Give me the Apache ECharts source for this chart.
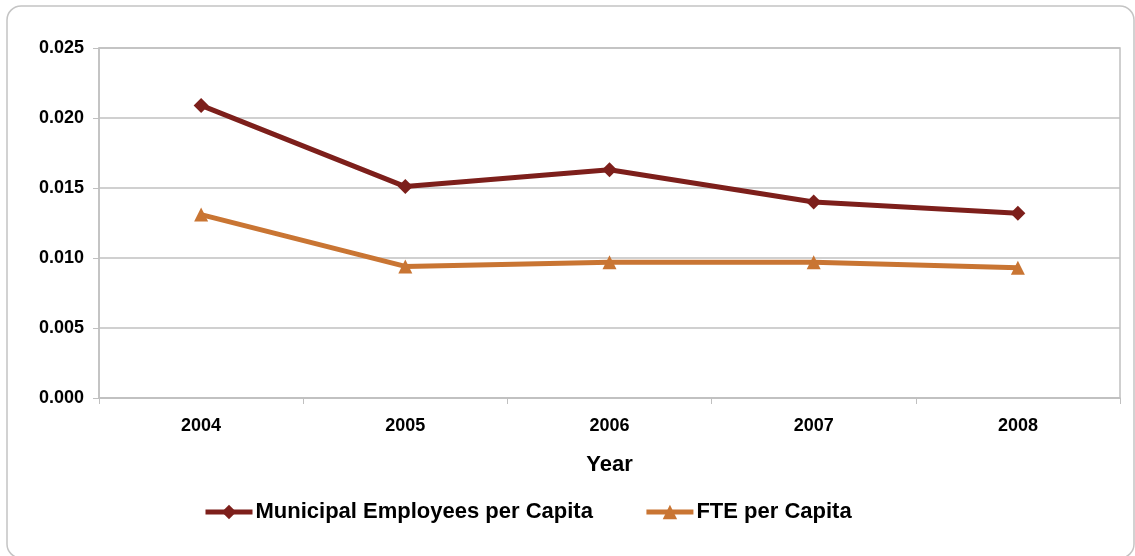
<!DOCTYPE html>
<html>
<head>
<meta charset="utf-8">
<title>Municipal Employees per Capita</title>
<script src="https://cdn.jsdelivr.net/npm/echarts@6/dist/echarts.min.js"></script>
<style>
  html, body { margin: 0; padding: 0; background: #ffffff; }
  #chart { width: 1135px; height: 556px; }
</style>
</head>
<body>
<div id="chart"></div>
<script>
// Years on the category axis
const years = ['2004', '2005', '2006', '2007', '2008'];

// Staffing ratios per resident
const municipalEmployeesPerCapita = [0.0209, 0.0151, 0.0163, 0.0140, 0.0132];
const ftePerCapita = [0.0131, 0.0094, 0.0097, 0.0097, 0.0093];

// Value axis range
const yMin = 0;
const yMax = 0.025;
const yStep = 0.005;

const FONT = '"Liberation Sans", Arial, Helvetica, sans-serif';
const GRID_GRAY = '#c0c0c0';
const MAROON = '#7d1f1b';
const ORANGE = '#c97533';

const chart = echarts.init(document.getElementById('chart'), null, { renderer: 'canvas' });

chart.setOption({
  backgroundColor: '#ffffff',
  animation: false,
  graphic: [{
    type: 'rect',
    shape: { x: 7, y: 6, width: 1127, height: 552, r: 14 },
    style: { fill: 'none', stroke: '#c4c4c4', lineWidth: 1.5 },
    silent: true,
    z: -1
  }],
  grid: {
    left: 99,
    right: 15,
    top: 48,
    bottom: 158,
    show: true,
    borderColor: GRID_GRAY,
    borderWidth: 1.5,
    backgroundColor: 'transparent'
  },
  legend: {
    bottom: 33,
    left: 203,
    padding: 0,
    itemWidth: 47,
    itemHeight: 18,
    itemGap: 51,
    lineStyle: { width: 5 },
    textStyle: {
      fontFamily: FONT,
      fontWeight: 'bold',
      fontSize: 22,
      color: '#000000',
      padding: [0, 0, 0, -2]
    },
    data: ['Municipal Employees per Capita', 'FTE per Capita']
  },
  xAxis: {
    type: 'category',
    data: years,
    boundaryGap: true,
    name: 'Year',
    nameLocation: 'middle',
    nameGap: 56,
    nameTextStyle: {
      fontFamily: FONT,
      fontWeight: 'bold',
      fontSize: 22,
      color: '#000000'
    },
    axisLine: { show: true, lineStyle: { color: GRID_GRAY, width: 1.5 } },
    axisTick: { show: true, length: 6, lineStyle: { color: GRID_GRAY, width: 1 } },
    axisLabel: {
      margin: 19,
      fontFamily: FONT,
      fontWeight: 'bold',
      fontSize: 18,
      color: '#000000'
    },
    splitLine: { show: false }
  },
  yAxis: {
    type: 'value',
    min: yMin,
    max: yMax,
    interval: yStep,
    axisLine: { show: true, lineStyle: { color: GRID_GRAY, width: 1.5 } },
    axisTick: { show: true, length: 6, lineStyle: { color: GRID_GRAY, width: 1 } },
    axisLabel: {
      margin: 15,
      fontFamily: FONT,
      fontWeight: 'bold',
      fontSize: 18,
      color: '#000000',
      formatter: v => v.toFixed(3)
    },
    splitLine: { show: true, lineStyle: { color: GRID_GRAY, width: 1.5 } }
  },
  series: [
    {
      name: 'Municipal Employees per Capita',
      type: 'line',
      data: municipalEmployeesPerCapita,
      symbol: 'diamond',
      symbolSize: 15,
      lineStyle: { color: MAROON, width: 5 },
      itemStyle: { color: MAROON, borderWidth: 0 },
      z: 3
    },
    {
      name: 'FTE per Capita',
      type: 'line',
      data: ftePerCapita,
      symbol: 'triangle',
      symbolSize: 14,
      lineStyle: { color: ORANGE, width: 5 },
      itemStyle: { color: ORANGE, borderWidth: 0 },
      z: 2
    }
  ]
});
</script>
</body>
</html>
